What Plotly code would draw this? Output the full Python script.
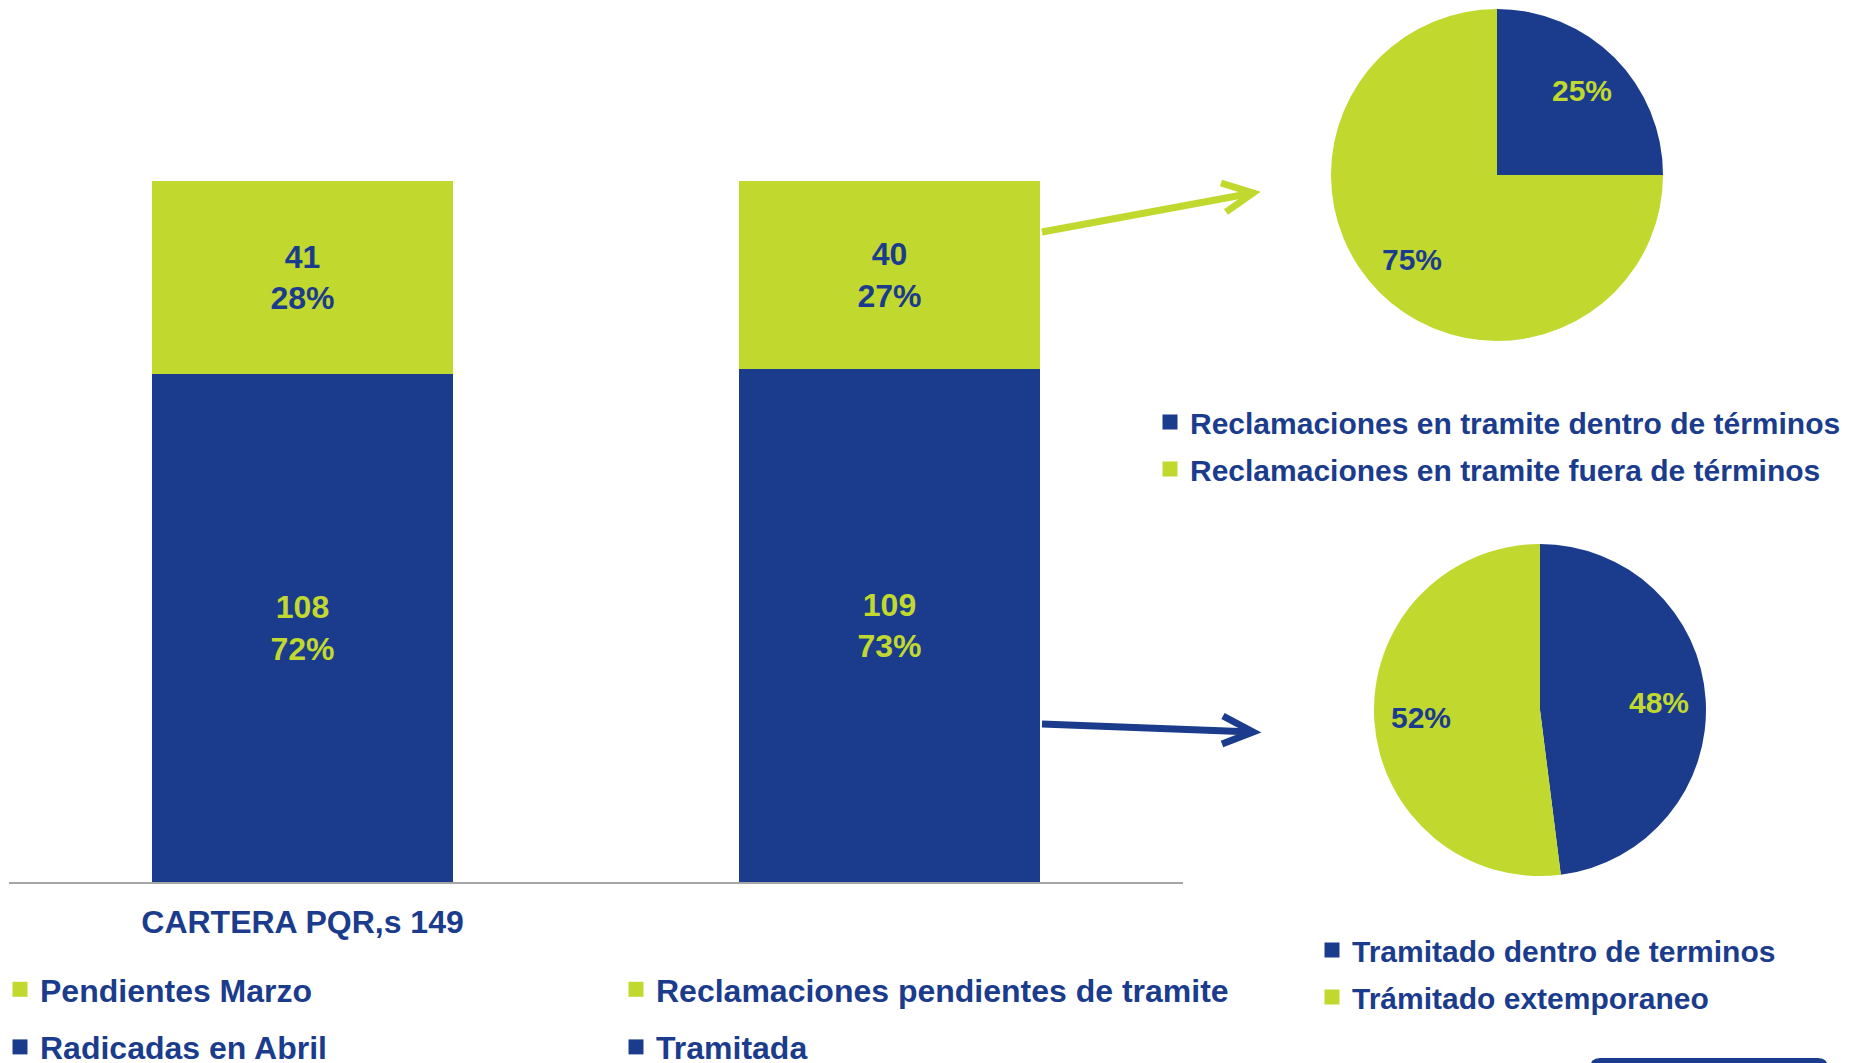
import math

import plotly.graph_objects as go

BLUE = "#1B3C8C"
GREEN = "#C1D82F"
FONT = "Liberation Sans, Arial, sans-serif"
W, H = 1851, 1063
OFF = 8  # page body margin

# bar chart data
tick_labels = ["CARTERA PQR,s 149", ""]
base_names = ["Radicadas en Abril", "Tramitada"]
base_values = [108, 109]
base_pct = [72, 73]
top_names = ["Pendientes Marzo", "Reclamaciones pendientes de tramite"]
top_values = [41, 40]
top_pct = [28, 27]

# pie data
pie1_labels = ["Reclamaciones en tramite dentro de términos",
               "Reclamaciones en tramite fuera de términos"]
pie1_values = [25, 75]
pie2_labels = ["Tramitado dentro de terminos", "Trámitado extemporaneo"]
pie2_values = [48, 52]


def px(x):
    return (x - OFF) / W


def py(y):
    return 1 - (y - OFF) / H


fig = go.Figure()

for i in range(2):
    fig.add_trace(go.Bar(
        x=[i], y=[base_values[i]], name=base_names[i],
        marker=dict(color=BLUE, line=dict(width=0)),
        text=[f"{base_values[i]}<br>{base_pct[i]}%"],
        textposition="inside", insidetextanchor="middle",
        textfont=dict(color=GREEN, size=32, family=FONT, weight="bold"),
        showlegend=False,
    ))
    fig.add_trace(go.Bar(
        x=[i], y=[top_values[i]], name=top_names[i],
        marker=dict(color=GREEN, line=dict(width=0)),
        text=[f"{top_values[i]}<br>{top_pct[i]}%"],
        textposition="inside", insidetextanchor="middle",
        textfont=dict(color=BLUE, size=32, family=FONT, weight="bold"),
        showlegend=False,
    ))

pies = [
    (pie1_labels, pie1_values, (1497, 175)),
    (pie2_labels, pie2_values, (1540, 710)),
]
R = 166
annotations = []
for labels, values, (cx, cy) in pies:
    fig.add_trace(go.Pie(
        labels=labels, values=values,
        domain=dict(x=[px(cx - R), px(cx + R)], y=[py(cy + R), py(cy - R)]),
        marker=dict(colors=[BLUE, GREEN]),
        sort=False, direction="clockwise", rotation=0,
        textinfo="none", showlegend=False, hoverinfo="label+percent",
    ))
    # percent labels placed like the original (further out than plotly's default)
    total = sum(values)
    cum = 0
    for v, fc in zip(values, [GREEN, BLUE]):
        theta = 2 * math.pi * (cum + v / 2) / total
        cum += v
        annotations.append(dict(
            xref="paper", yref="paper", xanchor="center", yanchor="middle",
            x=px(cx + 0.72 * R * math.sin(theta)),
            y=py(cy - 0.72 * R * math.cos(theta)),
            text=f"{round(100 * v / total)}%", showarrow=False,
            font=dict(color=fc, size=30, family=FONT, weight="bold"),
        ))

# legend entries (square swatches like the original)
legend_items = [
    ("legend", top_names[0], GREEN),
    ("legend", base_names[0], BLUE),
    ("legend2", top_names[1], GREEN),
    ("legend2", base_names[1], BLUE),
    ("legend3", pie1_labels[0], BLUE),
    ("legend3", pie1_labels[1], GREEN),
    ("legend4", pie2_labels[0], BLUE),
    ("legend4", pie2_labels[1], GREEN),
]
for k, (leg, name, color) in enumerate(legend_items):
    fig.add_trace(go.Scatter(
        x=[None], y=[None], mode="markers", name=name,
        marker=dict(symbol="square", size=15, color=color),
        legend=leg, legendgroup=f"g{k}", hoverinfo="skip",
    ))

# arrows from the second bar to the pies
arrows = [
    (GREEN, (1042, 232), (1253, 193), (1221, 183), (1226, 212)),
    (BLUE, (1042, 724), (1253, 732), (1223, 716), (1222, 744)),
]
shapes = []
for color, start, tip, a1, a2 in arrows:
    shapes.append(dict(
        type="line", xref="paper", yref="paper",
        x0=px(start[0]), y0=py(start[1]), x1=px(tip[0]), y1=py(tip[1]),
        line=dict(color=color, width=7),
    ))
    shapes.append(dict(
        type="path", xref="paper", yref="paper",
        path=(f"M {px(a1[0])},{py(a1[1])} L {px(tip[0])},{py(tip[1])} "
              f"L {px(a2[0])},{py(a2[1])}"),
        line=dict(color=color, width=7),
    ))

# partially visible box in the bottom-right corner
shapes.append(dict(
    type="path", xref="paper", yref="paper",
    path=(f"M {px(1590)},{py(1080)} L {px(1590)},{py(1068)} "
          f"Q {px(1590)},{py(1058)} {px(1600)},{py(1058)} "
          f"L {px(1818)},{py(1058)} Q {px(1828)},{py(1058)} {px(1828)},{py(1068)} "
          f"L {px(1828)},{py(1080)} Z"),
    fillcolor=BLUE, line=dict(width=0),
))

legend_font = dict(color=BLUE, size=32, family=FONT, weight="bold")
pie_legend_font = dict(color=BLUE, size=30, family=FONT, weight="bold")
fig.update_layout(
    width=W, height=H,
    margin=dict(l=0, r=0, t=0, b=0, autoexpand=False),
    paper_bgcolor="white", plot_bgcolor="white",
    barmode="stack", bargap=0.487,
    showlegend=True,
    xaxis=dict(
        domain=[px(9), px(1183)], range=[-0.5, 1.5],
        tickvals=[0, 1], ticktext=tick_labels,
        ticks="outside", ticklen=11, tickcolor="rgba(0,0,0,0)",
        tickfont=dict(color=BLUE, size=32, family=FONT, weight="bold"),
        showline=True, linecolor="#A6A6A6", linewidth=2,
        showgrid=False, zeroline=False, fixedrange=True, automargin=False,
    ),
    yaxis=dict(
        domain=[py(882), py(181)], range=[0, 149],
        visible=False, fixedrange=True, automargin=False,
    ),
    legend=dict(x=px(0), y=py(962), xanchor="left", yanchor="top",
                font=legend_font, tracegroupgap=13,
                traceorder="grouped", bgcolor="rgba(0,0,0,0)"),
    legend2=dict(x=px(616), y=py(962), xanchor="left", yanchor="top",
                 font=legend_font, tracegroupgap=13,
                 traceorder="grouped", bgcolor="rgba(0,0,0,0)"),
    legend3=dict(x=px(1150), y=py(396), xanchor="left", yanchor="top",
                 font=pie_legend_font, tracegroupgap=5,
                 traceorder="grouped", bgcolor="rgba(0,0,0,0)"),
    legend4=dict(x=px(1312), y=py(924), xanchor="left", yanchor="top",
                 font=pie_legend_font, tracegroupgap=5,
                 traceorder="grouped", bgcolor="rgba(0,0,0,0)"),
    shapes=shapes,
    annotations=annotations,
)

fig.write_html("out.html")
